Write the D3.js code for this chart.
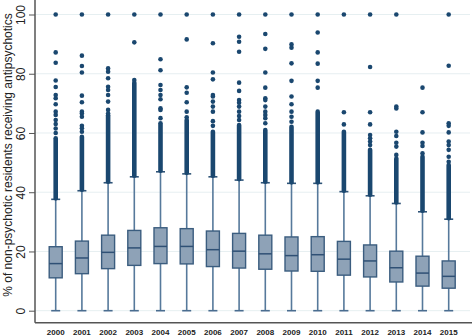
<!DOCTYPE html>
<html>
<head>
<meta charset="utf-8">
<script src="https://cdn.jsdelivr.net/npm/d3@7"></script>
<style>
  body { margin: 0; background: white; }
  svg { display: block; font-family: "Liberation Sans", Arial, sans-serif; }
</style>
</head>
<body>
<div id="chart"></div>
<script>
// box data (% of residents)
var years = ["2000","2001","2002","2003","2004","2005","2006","2007",
             "2008","2009","2010","2011","2012","2013","2014","2015"];
var q1     = [11.1,12.5,14.2,15.3,15.9,15.8,14.9,14.4,14.0,13.4,13.3,12.0,11.4, 9.7, 8.3, 7.6];
var median = [15.9,17.8,19.7,21.2,21.7,21.7,20.6,20.1,19.2,18.6,18.9,17.4,16.8,14.5,12.7,11.6];
var q3     = [21.6,23.5,25.5,27.1,28.0,27.7,26.9,26.1,25.5,24.9,25.0,23.4,22.2,20.1,18.4,16.8];
var lowerW = [0,0,0,0,0,0,0,0,0,0,0,0,0,0,0,0];
var upperW = [37.6,40.5,43.2,45.2,46.9,46.2,45.2,44.1,43.2,43.0,43.0,40.2,38.8,36.2,33.4,30.9];
// top of the solid run of outliers above each upper whisker
var denseTop = [58.2,58.7,66.0,77.0,63.3,64.4,60.4,62.7,61.0,62.1,67.2,60.4,54.3,51.4,52.0,49.2];
// separate outliers above the solid run
var outliers = [
  [100,87.2,83.7,77.7,75.5,72.8,71.7,69.7,67.2,66.1,64.4,63.0,61.5,60.0],
  [100,86.1,82.6,80.4,72.6,70.4,67.2,66.6,65.5,62.4,61.6,60.4],
  [100,81.8,80.7,78.5,75.6,74.5,72.8,70.6,67.8,66.6],
  [100,90.6,77.9],
  [100,84.9,81.2,76.2,74.5,72.8,71.4,68.3,67.8,65.0],
  [100,91.6,75.4,73.6,70.4,67.2,65.3],
  [100,90.3,80.4,78.1,72.8,72.3,70.6,68.9,67.2,64.0,62.4],
  [100,92.5,90.8,87.4,77.0,74.2,71.1,70.2,68.9,67.2,65.7,64.4],
  [100,93.4,88.4,80.4,75.3,71.7,71.1,68.9,67.2,66.1,65.0,63.3],
  [100,89.9,88.8,83.5,77.6,72.3,69.7,67.2,65.5,63.8],
  [100,93.9,87.2,83.4,77.6,75.3],
  [100,67.0,62.9],
  [100,82.3,67.0,62.9,59.3,58.2,57.1,55.9],
  [100,68.9,68.3,60.4,59.0,56.7,55.4,52.6],
  [75.3,67.0,60.2,56.7,55.6,53.1],
  [100,82.7,63.3,62.4,60.2,57.1,55.9,54.3,52.0,50.3]
];
var yTicks = [0,20,40,60,80,100];

var w = 472, h = 336,
    left = 35, bottom = 322.7;

var svg = d3.select("#chart").append("svg")
    .attr("width", w)
    .attr("height", h);

var x = d3.scalePoint()
        .domain(years)
        .range([55.7, 448.7]),
    y = d3.scaleLinear()
        .domain([0, 100])
        .range([310.7, 14.5]);

var boxW = 13, capW = 9;
var navy = "#1a476f";

// gridlines
svg.append("g").selectAll("line")
    .data(yTicks)
    .enter().append("line")
    .attr("x1", left).attr("x2", 470)
    .attr("y1", function (d) { return y(d); })
    .attr("y2", function (d) { return y(d); })
    .attr("stroke", "#e6eff1")
    .attr("stroke-width", 1);

var rows = years.map(function (yr, i) {
    return {year: yr, q1: q1[i], med: median[i], q3: q3[i],
            lo: lowerW[i], hi: upperW[i], dense: denseTop[i], out: outliers[i]};
});

var g = svg.append("g").selectAll("g")
    .data(rows)
    .enter().append("g")
    .attr("transform", function (d) { return "translate(" + x(d.year) + ",0)"; });

// whiskers
g.append("line")
    .attr("x1", 0).attr("x2", 0)
    .attr("y1", function (d) { return y(d.lo); })
    .attr("y2", function (d) { return y(d.hi); })
    .attr("stroke", "#56799b").attr("stroke-width", 1.6);
g.append("line")
    .attr("x1", -capW / 2).attr("x2", capW / 2)
    .attr("y1", function (d) { return y(d.lo); })
    .attr("y2", function (d) { return y(d.lo); })
    .attr("stroke", "#4a6d90").attr("stroke-width", 1.6);
g.append("line")
    .attr("x1", -capW / 2).attr("x2", capW / 2)
    .attr("y1", function (d) { return y(d.hi); })
    .attr("y2", function (d) { return y(d.hi); })
    .attr("stroke", "#2f5478").attr("stroke-width", 1.6);

// boxes
g.append("rect")
    .attr("x", -boxW / 2)
    .attr("width", boxW)
    .attr("y", function (d) { return y(d.q3); })
    .attr("height", function (d) { return y(d.q1) - y(d.q3); })
    .attr("fill", "#8ea2b7")
    .attr("stroke", "#3b5d7f")
    .attr("stroke-width", 1.4);
g.append("line")
    .attr("x1", -boxW / 2).attr("x2", boxW / 2)
    .attr("y1", function (d) { return y(d.med); })
    .attr("y2", function (d) { return y(d.med); })
    .attr("stroke", "#2f5075").attr("stroke-width", 1.5);

// solid run of outliers
g.append("line")
    .attr("x1", 0).attr("x2", 0)
    .attr("y1", function (d) { return y(d.hi) - 1; })
    .attr("y2", function (d) { return y(d.dense); })
    .attr("stroke", navy)
    .attr("stroke-width", 4.6)
    .attr("stroke-linecap", "round");

// single outliers
g.selectAll("circle")
    .data(function (d) { return d.out; })
    .enter().append("circle")
    .attr("cx", 0)
    .attr("cy", function (d) { return y(d); })
    .attr("r", 2.3)
    .attr("fill", navy);

// axes
var yAxis = d3.axisLeft(y).tickValues(yTicks).tickSize(6).tickPadding(3);
var ya = svg.append("g")
    .attr("transform", "translate(" + left + ",0)")
    .call(yAxis);
ya.select(".domain").remove();
ya.selectAll(".tick line").attr("stroke", "#555").attr("stroke-width", 1);
ya.selectAll(".tick text")
    .attr("font-size", 12)
    .attr("fill", "#222")
    .attr("x", 0).attr("y", 0).attr("dy", null)
    .attr("text-anchor", "middle")
    .attr("transform", "translate(-10,0) rotate(-90)");

svg.append("line")
    .attr("x1", left).attr("x2", left)
    .attr("y1", 0).attr("y2", bottom)
    .attr("stroke", "#555").attr("stroke-width", 1.5);
svg.append("line")
    .attr("x1", left).attr("x2", 472)
    .attr("y1", bottom).attr("y2", bottom)
    .attr("stroke", "#555").attr("stroke-width", 1.5);

svg.append("g").selectAll("text")
    .data(years)
    .enter().append("text")
    .attr("x", function (d) { return x(d); })
    .attr("y", 335)
    .attr("text-anchor", "middle")
    .attr("font-size", 8)
    .attr("font-weight", "bold")
    .attr("fill", "#222")
    .text(function (d) { return d; });

svg.append("text")
    .attr("transform", "translate(12,155) rotate(-90)")
    .attr("text-anchor", "middle")
    .attr("font-size", 12)
    .attr("fill", "#222")
    .text("% of non-psychotic residents receiving antipsychotics");
</script>
</body>
</html>
